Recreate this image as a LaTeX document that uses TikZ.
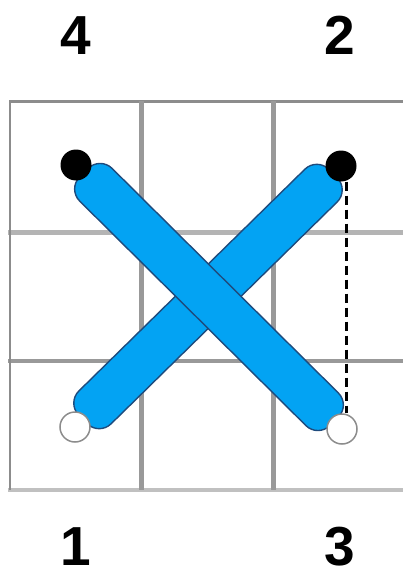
\documentclass[tikz,border=0pt]{standalone}
\usepackage{fontspec}
\setmainfont{Liberation Sans}
\usetikzlibrary{calc}
\definecolor{stitchblue}{RGB}{3,163,243}
\definecolor{stitchedge}{RGB}{30,75,125}
\definecolor{gridA}{RGB}{140,140,140}
\definecolor{gridB}{RGB}{153,153,153}
\definecolor{gridC}{RGB}{180,180,180}
\definecolor{gridD}{RGB}{192,192,192}
\begin{document}
\begin{tikzpicture}[x=1pt,y=-1pt,
  numlabel/.style={font=\bfseries\fontsize{55}{55}\selectfont,inner sep=0pt,anchor=base},
  blackdot/.style={circle,fill=black,minimum size=31pt,inner sep=0pt},
  whitedot/.style={circle,fill=white,draw=gridA,line width=1.5pt,minimum size=30pt,inner sep=0pt},
  stitchbox/.style={fill=stitchblue,draw=stitchedge,line width=1.4pt,rounded corners=17pt},
  gridline/.style={line cap=rect}]
\useasboundingbox (0,0) rectangle (403,578);
% grid
\draw[gridline,draw=gridA,line width=3pt] (10,101) -- (404,101);
\draw[gridline,draw=gridC,line width=5pt] (10,232) -- (404,232);
\draw[gridline,draw=gridB,line width=3.5pt] (10,361) -- (404,361);
\draw[gridline,draw=gridD,line width=3.5pt] (10,490) -- (404,490);
\draw[draw=gridA,line width=2.5pt] (10,101) -- (10,490);
\draw[draw=gridB,line width=5pt] (141,101) -- (141,490);
\draw[draw=gridB,line width=5pt] (273,101) -- (273,490);
% hole positions
\coordinate (p4) at (76,165);
\coordinate (p2) at (341,166);
\coordinate (p1) at (75,427);
\coordinate (p3) at (342,429);
% stitch 1 -> 2 (under)
\coordinate (e1) at ($(p1)!11pt!(p2)$);
\coordinate (e2) at ($(p2)!11pt!(p1)$);
\coordinate (m1) at ($(e1)!23pt!90:(e2)$);
\coordinate (m2) at ($(e2)!23pt!-90:(e1)$);
\coordinate (m3) at ($(e2)!23pt!90:(e1)$);
\coordinate (m4) at ($(e1)!23pt!-90:(e2)$);
\draw[stitchbox] ($(m1)!0.5!(m2)$) -- (m2) -- (m3) -- (m4) -- (m1) -- cycle;
% stitch 3 -> 4 (over)
\coordinate (f1) at ($(p4)!11pt!(p3)$);
\coordinate (f2) at ($(p3)!11pt!(p4)$);
\coordinate (n1) at ($(f1)!23pt!90:(f2)$);
\coordinate (n2) at ($(f2)!23pt!-90:(f1)$);
\coordinate (n3) at ($(f2)!23pt!90:(f1)$);
\coordinate (n4) at ($(f1)!23pt!-90:(f2)$);
\draw[stitchbox] ($(n1)!0.5!(n2)$) -- (n2) -- (n3) -- (n4) -- (n1) -- cycle;
% dots
\node[blackdot] (d4) at (p4) {};
\node[blackdot] (d2) at (p2) {};
\node[whitedot] (d1) at (p1) {};
\node[whitedot] (d3) at (p3) {};
% dashed guide
\draw[dash pattern=on 9pt off 5pt,line width=3pt] ([xshift=5pt]d2.south) -- ([xshift=4pt]d3.north);
% labels
\node[numlabel] (l4) at (76,55) {4};
\node[numlabel] (l2) at (340,55) {2};
\node[numlabel] (l1) at (76,565) {1};
\node[numlabel] (l3) at (340,565) {3};
\end{tikzpicture}
\end{document}
